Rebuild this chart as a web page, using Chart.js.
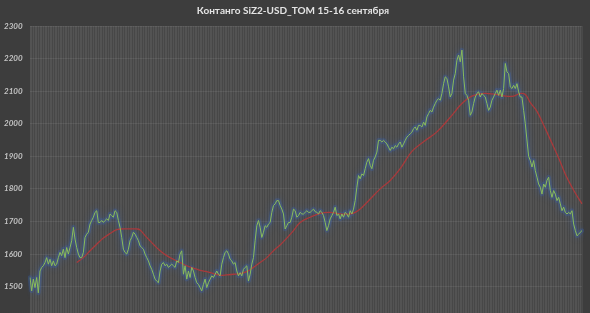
<!DOCTYPE html>
<html>
<head>
<meta charset="utf-8">
<script src="https://cdn.jsdelivr.net/npm/chart.js@4.4.0/dist/chart.umd.min.js"></script>
<style>
  html, body { margin: 0; padding: 0; background: #3d3d3d; overflow: hidden; }
  #wrap { width: 590px; height: 313px; overflow: hidden; }
</style>
</head>
<body>
<div id="wrap"><canvas id="lineChart" width="590" height="326"></canvas></div>
<script>
const title = 'Контанго SiZ2-USD_TOM 15-16 сентября';

// contango left to right
const contango = [
  1528,1487,1523,1497,1528,1481,1548,1559,1564,1574,
  1589,1569,1584,1564,1579,1564,1569,1589,1605,1595,
  1615,1589,1620,1600,1620,1641,1682,1646,1620,1600,
  1589,1589,1605,1651,1661,1667,1692,1703,1713,1728,
  1733,1697,1697,1703,1697,1703,1708,1703,1723,1718,
  1713,1733,1728,1703,1682,1651,1615,1605,1600,1615,
  1641,1651,1667,1661,1651,1641,1625,1620,1615,1600,
  1589,1579,1564,1553,1538,1523,1517,1512,1548,1569,
  1574,1564,1569,1559,1564,1569,1564,1559,1579,1574,
  1600,1610,1538,1564,1523,1548,1528,1559,1548,1528,
  1512,1507,1497,1487,1507,1523,1497,1512,1523,1533,
  1528,1538,1548,1538,1533,1569,1589,1605,1610,1600,
  1584,1579,1569,1574,1548,1533,1543,1533,1553,1559,
  1564,1517,1538,1569,1589,1641,1687,1703,1682,1651,
  1667,1687,1682,1692,1697,1728,1749,1754,1764,1764,
  1749,1738,1723,1677,1687,1697,1697,1713,1738,1733,
  1713,1718,
  1728,1723,1723,1728,1733,1728,1728,1733,1738,1730,
  1728,1723,1733,1728,1718,1697,1672,1687,1708,1718,
  1728,1744,1718,1723,1708,1723,1713,1728,1723,1713,
  1733,1723,1738,1764,1805,1841,1831,1846,1841,1862,
  1882,1893,1872,1862,1888,1898,1913,
  1949,1949,1944,1949,1944,1938,1928,1918,1928,1923,
  1933,1928,1938,1944,1928,1938,1949,1959,1964,1969,
  1974,1985,1990,1980,1995,1995,1990,2005,1995,2021,
  2031,2041,2036,2051,2062,2072,2077,2072,2093,2123,
  2144,2139,2113,2082,2093,2134,2154,2195,2211,2190,
  2226,2144,2093,2087,2072,2026,2036,2062,2082,2093,
  2098,2082,2093,2087,2082,2062,2041,2051,2072,2082,
  2093,2103,2087,2103,2082,2108,2185,2159,2154,2113,
  2108,2118,2108,2123,2098,2082,2082,2041,
  2000,
  1950,1900,1887,1867,1887,1856,1836,1815,1805,1784,
  1815,1805,1826,1836,1795,1774,1795,1784,1764,1774,
  1754,1733,1744,1728,1723,1728,1723,1733,1692,1672,
  1656,1661,1667,1672
];

// red average line: position in the series and value
const avgIndex = [28,32,36,40,44,48,52,56,60,64,66,70,74,78,82,86,90,94,98,102,
  106,110,114,118,122,126,130,134,138,142,146,150,154,158,162,168,174,180,186,192,
  195,198,204,210,216,222,229,236,244,252,259,265,272,279,285,290,294,297,300,304,
  309,313,317,321,325,329,331];
const avgValue = [1574,1589,1610,1630,1649,1663,1675,1677,1677,1677,1674,1651,1630,1610,1595,1584,1574,1564,1557,1550,
  1546,1540,1535,1536,1538,1540,1546,1559,1574,1589,1610,1628,1649,1672,1697,1713,1725,1728,1723,1723,
  1728,1738,1769,1800,1826,1862,1915,1945,1975,2020,2062,2085,2093,2090,2085,2085,2093,2090,2065,2038,
  1985,1940,1895,1845,1805,1770,1754];

const yTicks = [1400,1500,1600,1700,1800,1900,2000,2100,2200,2300];

const labels = contango.map((v, i) => i);
const avgPoints = avgIndex.map((idx, i) => ({ x: idx, y: avgValue[i] }));

const bgPlugin = {
  id: 'bg',
  beforeDraw(chart) {
    const { ctx, chartArea: a } = chart;
    ctx.save();
    ctx.fillStyle = '#3d3d3d';
    ctx.fillRect(0, 0, chart.width, chart.height);
    ctx.fillStyle = '#474747';
    ctx.fillRect(a.left, a.top, a.right - a.left, a.bottom - a.top);
    ctx.restore();
  }
};

// blue glow under the green line
const glowPlugin = {
  id: 'glow',
  beforeDatasetDraw(chart, args) {
    if (args.index !== 2) return;
    chart.ctx.save();
    chart.ctx.shadowColor = 'rgba(55,95,170,0.9)';
    chart.ctx.shadowBlur = 6;
  },
  afterDatasetDraw(chart, args) {
    if (args.index !== 2) return;
    chart.ctx.restore();
  }
};

const ctx = document.getElementById('lineChart');
new Chart(ctx, {
  type: 'line',
  data: {
    labels: labels,
    datasets: [
      {
        label: 'contango',
        data: contango,
        borderColor: '#8bbd5a',
        borderWidth: 1,
        pointRadius: 0,
        tension: 0,
        order: 0,
      },
      {
        label: 'avg',
        data: avgPoints,
        borderColor: '#a83a3c',
        borderWidth: 1.3,
        pointRadius: 0,
        tension: 0.4,
        order: 1,
      },
      {
        label: 'glow',
        data: contango,
        borderColor: 'rgba(60,100,175,0.3)',
        borderWidth: 4.5,
        borderJoinStyle: 'round',
        borderCapStyle: 'round',
        pointRadius: 0,
        tension: 0,
        order: 2,
      },
    ],
  },
  plugins: [bgPlugin, glowPlugin],
  options: {
    responsive: false,
    animation: false,
    layout: { padding: { left: 4, right: 8, top: 0, bottom: 0 } },
    plugins: {
      legend: { display: false },
      tooltip: { enabled: false },
      title: {
        display: true,
        text: title,
        color: '#e4e4e4',
        font: { family: 'Lato', size: 10, weight: 'bold' },
        padding: { top: 5, bottom: 9 },
      },
    },
    scales: {
      x: {
        type: 'category',
        ticks: { display: false },
        grid: { color: 'rgba(255,255,255,0.065)', drawTicks: false },
        border: { display: false },
      },
      y: {
        min: 1400,
        max: 2300,
        afterBuildTicks(scale) {
          scale.ticks = yTicks.map(v => ({ value: v }));
        },
        afterFit(scale) { scale.width = 26; },
        ticks: {
          color: '#c4c4c4',
          crossAlign: 'far',
          padding: 2,
          font: { family: 'Lato', size: 8, style: 'italic', weight: 'bold' },
          callback: (v) => String(v),
        },
        grid: { color: 'rgba(255,255,255,0.07)', drawTicks: false },
        border: { display: false },
      },
    },
  },
});
</script>
</body>
</html>
